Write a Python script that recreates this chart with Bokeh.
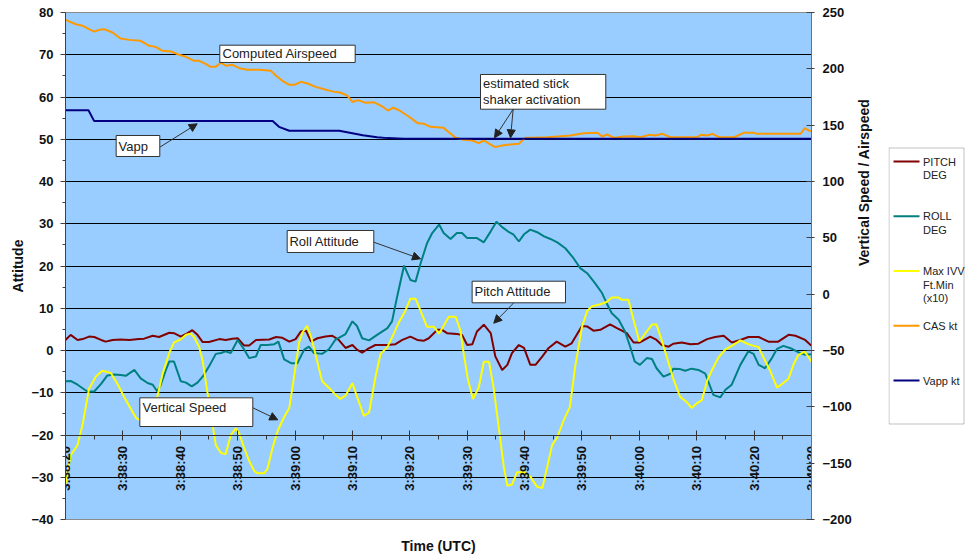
import math
from bokeh.plotting import figure
from bokeh.models import (Range1d, LinearAxis, FixedTicker, BoxAnnotation, Label,
                          Arrow, NormalHead)
from bokeh.layouts import row
from bokeh.core.properties import value
from bokeh.embed import file_html
from bokeh.resources import INLINE

FONT = "Liberation Sans"

# ---------------- data (seconds after 3:38:20 UTC) ----------------
tick_secs = [0, 10, 20, 30, 40, 50, 60, 70, 80, 90, 100, 110, 120, 130]
minor_secs = [5, 15, 25, 35, 45, 55, 65, 75, 85, 95, 105, 115, 125]
tick_labels = ["3:38:20", "3:38:30", "3:38:40", "3:38:50", "3:39:00", "3:39:10",
               "3:39:20", "3:39:30", "3:39:40", "3:39:50", "3:40:00", "3:40:10",
               "3:40:20", "3:40:30"]
left_ticks = [-40, -30, -20, -10, 0, 10, 20, 30, 40, 50, 60, 70, 80]
left_minor = [-35, -25, -15, -5, 5, 15, 25, 35, 45, 55, 65, 75]
right_ticks = [-200, -150, -100, -50, 0, 50, 100, 150, 200, 250]

pitch_t = [0.0, 0.9, 2.1, 3.0, 4.1, 5.0, 6.2, 7.0, 8.2, 9.6, 11.1, 12.8, 13.7, 15.2, 16.3,
           18.1, 18.9, 20.1, 21.0, 22.1, 23.0, 23.9, 25.0, 26.8, 27.9, 29.1, 30.0, 31.1,
           32.0, 33.2, 35.5, 36.7, 37.8, 39.0, 40.1, 41.0, 41.9, 42.8, 43.9, 45.3, 46.5,
           47.6, 48.8, 50.0, 50.8, 51.7, 52.6, 54.0, 56.1, 57.5, 58.7, 60.1, 61.3, 62.4,
           63.3, 64.8, 65.6, 66.5, 68.2, 69.1, 70.0, 70.9, 71.7, 72.9, 74.1, 74.9, 76.1,
           77.0, 77.8, 79.0, 79.9, 81.0, 81.9, 83.1, 84.2, 85.6, 87.1, 88.2, 90.0, 90.9,
           92.0, 93.2, 94.9, 96.1, 97.8, 99.0, 100.1, 101.9, 103.0, 103.9, 105.1, 105.9,
           107.4, 108.9, 110.3, 111.8, 113.2, 114.7, 116.1, 117.6, 119.0, 120.8, 122.5,
           124.2, 126.0, 127.2, 128.9, 130.0]
pitch_deg = [2.5, 3.7, 2.5, 2.7, 3.3, 3.2, 2.5, 2.1, 2.5, 2.6, 2.5, 2.7, 2.8, 3.5, 3.2,
             4.2, 4.1, 3.3, 3.9, 4.8, 3.7, 2.0, 2.0, 2.7, 2.5, 2.8, 2.9, 1.2,
             1.2, 2.5, 2.6, 3.2, 3.0, 2.1, 2.7, 4.5, 4.7, 2.1, 2.9, 3.3, 3.5,
             2.5, 0.6, 1.3, 0.2, -0.5, 0.3, 1.3, 1.3, 1.5, 2.5, 3.3, 2.5, 2.3,
             2.9, 4.9, 4.9, 4.1, 3.9, 3.7, 1.3, 1.5, 4.5, 6.1, 4.1, -1.4, -4.6,
             -3.4, -0.6, 1.3, 0.6, -3.4, -3.4, -1.4, 0.6, 2.1, 0.9, 1.7, 5.8, 5.7,
             4.7, 4.9, 6.2, 5.3, 4.1, 1.9, 1.9, 3.3, 2.5, 1.3, 0.9, 1.6,
             1.9, 1.5, 1.6, 2.7, 3.2, 3.5, 1.9, 2.5, 3.2, 3.2, 2.1,
             2.1, 3.7, 3.5, 2.5, 1.1]

roll_t = [0.0, 0.9, 2.1, 3.8, 5.0, 6.2, 7.3, 8.5, 9.6, 10.5, 12.0, 13.1, 14.3, 15.2, 16.0,
          16.6, 17.5, 18.1, 18.9, 20.1, 21.0, 22.0, 23.0, 23.9, 25.0, 26.2, 27.1, 27.9,
          28.8, 30.0, 31.1, 32.0, 33.2, 34.0, 35.2, 36.4, 37.1, 38.1, 39.3, 40.4, 41.6,
          42.4, 43.3, 44.7, 45.9, 47.0, 48.8, 50.0, 50.8, 51.7, 52.9, 54.3, 56.1, 56.9,
          57.8, 59.0, 60.1, 61.0, 61.9, 63.0, 63.9, 65.1, 65.9, 67.1, 68.2, 69.1, 70.0,
          71.7, 72.9, 74.1, 75.1, 76.1, 77.3, 78.1, 79.0, 79.9, 81.0, 82.2, 83.4, 84.5,
          85.7, 87.1, 88.5, 89.7, 90.9, 92.3, 93.5, 94.3, 95.2, 96.4, 97.5, 98.4, 99.2,
          100.1, 101.3, 102.2, 103.0, 104.2, 105.4, 105.9, 107.1, 108.0, 109.1, 110.3,
          111.5, 112.9, 114.1, 115.0, 116.1, 117.6, 119.0, 119.9, 120.8, 121.9, 123.1,
          124.0, 125.1, 126.6, 128.0, 128.9, 130.0]
roll_deg = [-7.3, -7.2, -8.1, -9.7, -9.7, -7.9, -5.9, -5.7, -5.8, -6.0, -4.6, -6.6, -7.7, -8.1, -9.7,
            -8.1, -4.6, -2.6, -2.6, -7.3, -7.6, -8.5, -7.6, -6.2, -3.8, -0.8, -0.6, -0.2,
            -0.6, 2.5, 0.3, -1.8, -1.4, 1.3, 1.3, 1.5, 2.1, -2.1, -3.0, -3.0, 0.2,
            0.9, -0.6, -0.8, 0.3, 2.5, 3.9, 6.9, 5.8, 2.9, 2.4, 3.7, 5.3, 6.9,
            12.8, 20.1, 16.7, 16.3, 20.7, 25.4, 27.8, 29.8, 27.8, 26.4, 27.8, 27.8, 26.6,
            26.6, 25.6, 28.2, 30.5, 29.2, 28.0, 27.4, 25.8, 27.5, 28.6, 28.0, 27.0, 26.4,
            25.6, 24.2, 21.9, 19.5, 18.3, 15.9, 13.6, 11.2, 8.8, 7.3, 4.5, 0.9, -2.6,
            -3.4, -1.8, -2.0, -4.2, -6.2, -5.5, -4.3, -4.4, -4.8, -4.3, -4.6,
            -5.5, -10.5, -11.1, -9.3, -8.1, -3.4, -0.2, -0.8, -3.4, -4.2, -1.8,
            0.4, 1.1, 0.4, -0.6, -1.0, -0.9]

ivv_t = [0.0, 0.9, 2.1, 3.0, 4.1, 5.3, 6.4, 7.9, 9.1, 10.2, 11.4, 12.3, 13.1, 14.0, 16.0,
         16.9, 18.1, 18.9, 20.1, 21.0, 21.8, 22.4, 23.3, 23.9, 24.7, 26.2, 27.1, 27.9,
         28.8, 29.7, 30.3, 31.1, 32.0, 32.9, 33.5, 34.6, 35.2, 36.1, 37.0, 38.1, 39.0,
         39.9, 40.7, 41.3, 42.1, 42.8, 43.6, 44.7, 45.9, 47.0, 47.9, 48.8, 50.0, 50.8,
         52.0, 52.9, 54.0, 54.9, 56.1, 57.2, 58.1, 59.2, 60.1, 61.0, 61.9, 63.0, 64.2,
         65.1, 65.9, 66.8, 68.0, 68.8, 69.4, 70.1, 71.0, 72.0, 72.9, 73.8, 74.6, 75.5,
         76.4, 77.0, 77.8, 78.7, 79.9, 81.0, 82.2, 83.1, 84.0, 84.8, 85.7, 86.8, 87.9,
         88.8, 90.0, 90.9, 91.7, 93.2, 94.3, 95.2, 96.4, 96.9, 98.1, 99.0, 100.0, 101.0,
         102.2, 103.0, 103.9, 104.8, 105.9, 107.1, 108.3, 109.1, 110.0, 110.9, 111.8,
         112.6, 113.8, 115.0, 116.1, 117.6, 118.4, 119.3, 120.8, 121.6, 122.8, 124.0,
         124.8, 126.0, 126.9, 127.7, 128.8, 129.5, 130.0]
ivv_ftmin_x10 = [-168, -143, -134, -115, -84, -73, -68, -70, -80, -91, -102, -110, -112, -113, -91,
                 -71, -52, -43, -40, -36, -35, -38, -47, -59, -86, -134, -141, -142,
                 -125, -119, -124, -136, -148, -157, -159, -159, -155, -136, -121, -109, -101,
                 -71, -43, -34, -28, -38, -54, -77, -83, -89, -93, -90, -79, -91,
                 -108, -105, -74, -53, -47, -35, -25, -15, -4, -4, -15, -29, -29,
                 -35, -28, -20, -20, -32, -53, -75, -93, -83, -60, -60, -83, -118,
                 -154, -170, -169, -158, -158, -162, -171, -172, -152, -134, -127, -112, -100,
                 -65, -29, -15, -11, -9, -7, -3, -3, -5, -5, -23, -42, -35,
                 -27, -27, -41, -56, -75, -91, -96, -101, -97, -94, -77,
                 -68, -56, -49, -46, -41, -43, -45, -47, -56, -68, -83,
                 -80, -75, -62, -54, -51, -56, -60]

cas_t = [0.0, 1.8, 3.0, 4.1, 5.0, 5.9, 6.7, 8.2, 9.6, 11.1, 13.1, 14.6, 15.7, 16.9, 18.4,
         19.5, 21.0, 22.4, 23.3, 24.5, 25.3, 26.2, 27.1, 27.9, 29.1, 30.3, 31.7, 33.8,
         35.8, 36.7, 37.8, 39.0, 39.9, 41.0, 42.2, 43.6, 45.4, 46.5, 48.0, 49.1, 50.0,
         51.0, 52.3, 53.7, 55.2, 56.2, 57.1, 58.2, 59.8, 61.3, 62.4, 63.6, 65.9, 66.8,
         68.0, 69.4, 70.9, 72.0, 72.9, 74.1, 74.9, 76.1, 77.5, 79.0, 79.6, 80.2, 81.6,
         83.9, 85.7, 88.0, 90.3, 92.7, 93.5, 94.4, 95.6, 97.3, 99.0, 100.2, 101.7, 102.8,
         104.0, 105.4, 110.1, 110.7, 111.8, 112.7, 113.9, 116.5, 118.2, 120.0, 120.5,
         128.1, 128.8, 129.5, 130.0]
cas_kt = [243.5, 239.6, 238.2, 235.2, 233.1, 234.6, 235.2, 232.2, 226.9, 225.7, 224.9, 220.4, 219.5, 216.0, 215.4,
          213.0, 210.7, 207.1, 207.1, 204.1, 201.8, 201.8, 205.6, 202.7, 203.6, 200.6, 199.1, 199.1,
          198.2, 193.8, 189.4, 185.8, 185.8, 188.5, 187.0, 184.0, 181.4, 180.0, 178.8, 176.2, 170.6,
          172.2, 169.8, 170.4, 166.6, 163.0, 165.5, 163.0, 157.7, 152.0, 151.3, 148.5, 147.6, 143.8,
          138.8, 137.0, 136.4, 134.0, 136.4, 132.8, 130.5, 132.0, 132.8, 133.4, 136.4, 138.8, 138.8,
          139.3, 139.9, 140.8, 142.9, 143.2, 139.9, 141.7, 138.8, 139.9, 140.2, 139.3, 141.4, 140.8,
          142.3, 139.3, 139.3, 141.4, 140.8, 142.3, 139.3, 139.3, 143.2, 143.2, 142.3,
          142.3, 147.3, 145.3, 144.7]

vapp_t = [0.0, 4.0, 5.0, 36.1, 37.2, 39.0, 47.7, 50.0, 51.8, 54.3, 56.1, 59.0, 130.0]
vapp_kt = [163.3, 163.3, 153.6, 153.6, 148.5, 145.0, 145.0, 142.9, 141.1, 139.3, 138.5, 137.9, 137.9]

legend_names = [["PITCH", "DEG"], ["ROLL", "DEG"], ["Max IVV", "Ft.Min", "(x10)"],
                ["CAS kt"], ["Vapp kt"]]
legend_colors = ["#800000", "#008080", "#FFFF00", "#FF9900", "#000080"]

# annotation boxes: (text lines, box [t0, t1, v_bottom, v_top], text anchor, arrows)
notes = [
    (["Computed Airspeed"], (26.89, 50.48, 68.17, 72.26), (27.36, [70.2]), []),
    (["Vapp"], (8.83, 16.43, 45.92, 50.89), (9.24, [48.4]), [((16.43, 48.12), (22.95, 53.66))]),
    (["estimated stick", "shaker activation"], (72.32, 94.15, 57.11, 65.33), (72.75, [63.27, 59.34]),
     [((78.01, 57.11), (74.76, 50.34)), ((78.01, 57.11), (77.55, 50.34))]),
    (["Roll Attitude"], (38.63, 53.72, 23.20, 28.40), (39.03, [25.8]), [((53.72, 25.63), (61.86, 21.70))]),
    (["Pitch Attitude"], (70.86, 87.13, 11.29, 16.40), (71.27, [13.85]), [((78.12, 11.29), (74.63, 6.46))]),
    (["Vertical Speed"], (12.95, 32.64, -17.99, -11.20), (13.42, [-13.42]), [((32.64, -13.56), (36.99, -16.40))]),
]

# ---------------- main figure ----------------
p = figure(frame_width=746, frame_height=507, title=None,
           x_range=Range1d(0, 130), y_range=Range1d(-40, 80),
           x_axis_location=None, y_axis_location="left",
           output_backend="svg", toolbar_location=None,
           min_border_left=65, min_border_right=77, min_border_top=12, min_border_bottom=34,
           background_fill_color="#99CCFF", border_fill_color="white")
p.outline_line_color = "#8c8c8c"
p.extra_y_ranges = {"right": Range1d(-200, 250)}

p.xgrid.visible = False
p.ygrid.ticker = FixedTicker(ticks=left_ticks)
p.ygrid.grid_line_color = "#000000"
p.ygrid.grid_line_width = 1

ya = p.yaxis[0]
ya.ticker = FixedTicker(ticks=left_ticks, minor_ticks=left_minor)
ya.major_tick_out = 5
ya.major_tick_in = 0
ya.minor_tick_out = 3
ya.minor_tick_in = 0
ya.axis_line_color = "#404040"
ya.major_tick_line_color = "#404040"
ya.minor_tick_line_color = "#404040"
ya.major_label_text_font = FONT
ya.major_label_text_font_size = "13px"
ya.major_label_text_font_style = "bold"
ya.major_label_text_color = "#111111"
ya.major_label_standoff = 7
ya.axis_label = "Attitude"
ya.axis_label_text_font = FONT
ya.axis_label_text_font_size = "14px"
ya.axis_label_text_font_style = "bold"
ya.axis_label_text_color = "#111111"
ya.axis_label_standoff = 2

ra = LinearAxis(y_range_name="right", ticker=FixedTicker(ticks=right_ticks, minor_ticks=[]),
                major_tick_in=5, major_tick_out=3, minor_tick_in=0, minor_tick_out=0,
                axis_line_color="#707070", major_tick_line_color="#404040",
                major_label_text_font=FONT, major_label_text_font_size="13px",
                major_label_text_font_style="bold", major_label_text_color="#111111",
                major_label_standoff=8,
                axis_label="Vertical Speed / Airspeed", axis_label_text_font=FONT,
                axis_label_text_font_size="14px", axis_label_text_font_style="bold",
                axis_label_text_color="#111111", axis_label_standoff=9,
                axis_label_orientation=math.pi / 2)
p.add_layout(ra, "right")

xa = LinearAxis(fixed_location=-20,
                ticker=FixedTicker(ticks=tick_secs, minor_ticks=minor_secs),
                major_label_overrides={s: l for s, l in zip(tick_secs, tick_labels)},
                major_label_orientation=math.pi / 2,
                major_tick_in=5, major_tick_out=5, minor_tick_in=0, minor_tick_out=4,
                axis_line_color="#333333", major_tick_line_color="#333333",
                minor_tick_line_color="#333333",
                major_label_text_font=FONT, major_label_text_font_size="13px",
                major_label_text_font_style="bold", major_label_text_color="#111111",
                major_label_standoff=6)
p.add_layout(xa, "below")

xl = LinearAxis(ticker=FixedTicker(ticks=[], minor_ticks=[]),
                axis_line_color=None, major_tick_line_color=None, minor_tick_line_color=None,
                major_tick_in=0, major_tick_out=0, minor_tick_in=0, minor_tick_out=0,
                major_label_text_font_size="0px",
                axis_label="Time (UTC)", axis_label_text_font=FONT,
                axis_label_text_font_size="14px", axis_label_text_font_style="bold",
                axis_label_text_color="#111111", axis_label_standoff=18)
p.add_layout(xl, "below")

# series
p.line(pitch_t, pitch_deg, line_color=legend_colors[0], line_width=2)
p.line(roll_t, roll_deg, line_color=legend_colors[1], line_width=2)
p.line(ivv_t, ivv_ftmin_x10, line_color=legend_colors[2], line_width=2, y_range_name="right")
p.line(cas_t, cas_kt, line_color=legend_colors[3], line_width=2, y_range_name="right")
p.line(vapp_t, vapp_kt, line_color=legend_colors[4], line_width=2, y_range_name="right")

# annotations
for lines, (t0, t1, vb, vt), (tx, tys), arrows in notes:
    p.add_layout(BoxAnnotation(left=t0, right=t1, bottom=vb, top=vt,
                               fill_color="white", fill_alpha=1.0,
                               line_color="#333333", line_width=1, line_alpha=1.0))
    for txt, ty in zip(lines, tys):
        p.add_layout(Label(x=tx, y=ty, text=txt, text_font=FONT, text_font_size="13px",
                           text_color="#222222", text_baseline="middle", text_align="left"))
    for (xs, ys), (xe, ye) in arrows:
        p.add_layout(Arrow(x_start=xs, y_start=ys, x_end=xe, y_end=ye,
                           line_color="#333333", line_width=1,
                           end=NormalHead(size=8, fill_color="#222222", line_color="#222222",
                                          line_width=1)))

# ---------------- legend figure (same frame height, box drawn inside) ----------------
leg = figure(frame_width=77, frame_height=507, title=None,
             x_range=Range1d(0, 77), y_range=Range1d(507, 0),
             x_axis_location=None, y_axis_location=None,
             output_backend="svg", toolbar_location=None,
             min_border_left=0, min_border_right=0, min_border_top=12, min_border_bottom=34,
             background_fill_color="white", border_fill_color="white")
leg.outline_line_color = None
leg.grid.visible = False
leg.add_layout(BoxAnnotation(left=0.5, right=75.5, top=135.5, bottom=411.5,
                             fill_alpha=0.0, line_color="#333333", line_width=1,
                             level="underlay"))
for i, (names, col) in enumerate(zip(legend_names, legend_colors)):
    y0 = 149 + 54.75 * i
    leg.line([5, 31], [y0, y0], line_color=col, line_width=2)
    for j, nm in enumerate(names):
        leg.text(x=[34.5], y=[y0 + 13.5 * j], text=[nm], text_font=value(FONT),
                 text_font_size="11px", text_baseline="middle", text_align="left",
                 text_color="#222222")

layout = row(p, leg)
open("out.html", "w").write(file_html(layout, INLINE))
